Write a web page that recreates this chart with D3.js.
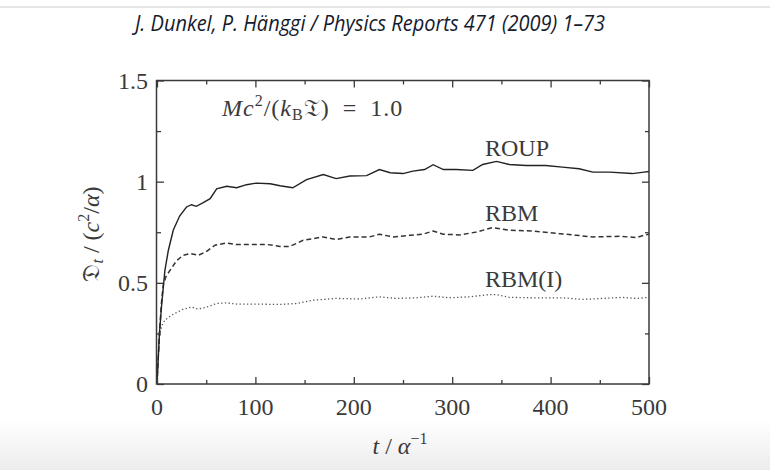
<!DOCTYPE html>
<html><head><meta charset="utf-8">
<script src="https://cdn.jsdelivr.net/npm/d3@7"></script>
<style>
html,body{margin:0;padding:0;background:#fff;}
svg{display:block;}
</style></head>
<body>
<svg id="chart" width="770" height="470"></svg>
<script>
// ---- data ----
const roupT = [0,1,2.5,4.7,8,11.5,16.5,23,30,35,40,47,54,60.6,70.8,81,91,101,115,125,138,152,169,182,196,213,226,237,250,260,272,280.6,291,304,321,331,345,358,375,395,412,429,443,460,483,495,500];
const roupV = [0,0.1,0.25,0.39,0.56,0.66,0.76,0.83,0.875,0.886,0.878,0.896,0.916,0.965,0.977,0.97,0.985,0.993,0.99,0.98,0.97,1.01,1.035,1.015,1.028,1.03,1.06,1.044,1.04,1.052,1.06,1.084,1.06,1.06,1.056,1.085,1.10,1.085,1.08,1.08,1.072,1.064,1.047,1.047,1.04,1.047,1.05];
const rbmT = [0,1,2.5,4.5,6.4,9,13,20,26.7,33.5,42,50.5,59,70.8,81,94,111,125,135,148.5,169,182,196,216,226,240,257,270,280.6,291,308,324.6,341,358,382,409,426,443,470,487,495,500];
const rbmV = [0,0.1,0.25,0.4,0.49,0.53,0.56,0.61,0.636,0.645,0.636,0.656,0.686,0.697,0.689,0.689,0.69,0.68,0.68,0.71,0.727,0.714,0.727,0.727,0.74,0.727,0.735,0.74,0.756,0.74,0.737,0.751,0.773,0.76,0.756,0.743,0.735,0.727,0.73,0.724,0.735,0.74];
const rbmIT = [0,1,2,3,5,8,16.5,26.7,35,42,50.5,60.6,70.8,81,101,125,142,159,182,206,226,243,264,280.6,297,318,338,345,358,385,412,433,453,473,487,500];
const rbmIV = [0,0.12,0.2,0.25,0.29,0.316,0.345,0.37,0.38,0.37,0.38,0.398,0.401,0.395,0.395,0.393,0.398,0.414,0.423,0.42,0.431,0.423,0.426,0.434,0.426,0.431,0.442,0.442,0.428,0.426,0.426,0.418,0.423,0.428,0.423,0.428];
const xMajor = [0,100,200,300,400,500];
const xMinor = [50,150,250,350,450];
const yMajor = [0,0.5,1,1.5];
const yMinor = [0.25,0.75,1.25];
const yTickLabels = ["0","0.5","1","1.5"];
const seriesLabels = ["ROUP","RBM","RBM(I)"];

const svg = d3.select("#chart");
const serif = "'Liberation Serif','DejaVu Serif',serif";
const ink = "#3a3a3a";
const FS = 24, SS = 16;

// page decoration
const defs = svg.append("defs");
const grad = defs.append("linearGradient").attr("id","bot").attr("x1",0).attr("y1",0).attr("x2",0).attr("y2",1);
grad.append("stop").attr("offset","0%").attr("stop-color","#ffffff");
grad.append("stop").attr("offset","100%").attr("stop-color","#ececec");
svg.append("rect").attr("x",0).attr("y",420).attr("width",770).attr("height",50).attr("fill","url(#bot)");
svg.append("line").attr("x1",0).attr("x2",770).attr("y1",7).attr("y2",7).attr("stroke","#e6e6e6").attr("stroke-width",2);

svg.append("text").attr("x",135).attr("y",31)
  .attr("font-family","'Open Sans','Noto Sans',sans-serif").attr("font-style","italic")
  .attr("font-size",21).attr("fill","#151b2c")
  .attr("textLength",470).attr("lengthAdjust","spacingAndGlyphs")
  .text("J. Dunkel, P. Hänggi / Physics Reports 471 (2009) 1–73");

// scales
const x = d3.scaleLinear().domain([0,500]).range([157,649]);
const y = d3.scaleLinear().domain([0,1.5]).range([384,80.5]);

// lines
const line = d3.line().x(d=>x(d[0])).y(d=>y(d[1]));
const zip = (a,b)=>a.map((t,i)=>[t,b[i]]);
const g = svg.append("g");
g.append("path").datum(zip(rbmIT,rbmIV)).attr("d",line).attr("fill","none")
  .attr("stroke","#555").attr("stroke-width",1.3).attr("stroke-dasharray","1.3,2.4");
g.append("path").datum(zip(rbmT,rbmV)).attr("d",line).attr("fill","none")
  .attr("stroke","#333").attr("stroke-width",1.5).attr("stroke-dasharray","5,3");
g.append("path").datum(zip(roupT,roupV)).attr("d",line).attr("fill","none")
  .attr("stroke","#222").attr("stroke-width",1.4);

// frame
const [x0,x1] = x.range(); const [yb,yt] = y.range();
svg.append("rect").attr("x",x0-0.5).attr("y",yt).attr("width",x1-x0+0.5).attr("height",yb-yt)
  .attr("fill","none").attr("stroke",ink).attr("stroke-width",1.5);

// ticks (inward, all four sides)
const axB = d3.axisBottom(x).tickValues(xMajor).tickSize(-7).tickFormat("");
const axT = d3.axisTop(x).tickValues(xMajor).tickSize(-7).tickFormat("");
const axBm = d3.axisBottom(x).tickValues(xMinor).tickSize(-4).tickFormat("");
const axTm = d3.axisTop(x).tickValues(xMinor).tickSize(-4).tickFormat("");
const axL = d3.axisLeft(y).tickValues(yMajor).tickSize(-7).tickFormat("");
const axR = d3.axisRight(y).tickValues(yMajor).tickSize(-7).tickFormat("");
const axLm = d3.axisLeft(y).tickValues(yMinor).tickSize(-4).tickFormat("");
const axRm = d3.axisRight(y).tickValues(yMinor).tickSize(-4).tickFormat("");
function put(ax, tr){
  const a = svg.append("g").attr("transform",tr).call(ax);
  a.select(".domain").remove();
  a.selectAll("line").attr("stroke",ink).attr("stroke-width",1.3);
}
put(axB,`translate(0,${yb})`); put(axBm,`translate(0,${yb})`);
put(axT,`translate(0,${yt})`); put(axTm,`translate(0,${yt})`);
put(axL,`translate(${x0},0)`); put(axLm,`translate(${x0},0)`);
put(axR,`translate(${x1},0)`); put(axRm,`translate(${x1},0)`);

// tick labels
svg.append("g").selectAll("text").data(xMajor).join("text")
  .attr("x",d=>x(d)).attr("y",415).attr("text-anchor","middle")
  .attr("font-family",serif).attr("font-size",FS).attr("fill",ink).text(d=>d);
svg.append("g").selectAll("text").data(yMajor).join("text")
  .attr("x",148).attr("y",d=>y(d)+8).attr("text-anchor","end")
  .attr("font-family",serif).attr("font-size",FS).attr("fill",ink).text((d,i)=>yTickLabels[i]);

// axis titles
const xl = svg.append("text").attr("x",400).attr("y",454).attr("text-anchor","middle")
  .attr("font-family",serif).attr("font-size",FS).attr("fill",ink);
xl.append("tspan").attr("font-style","italic").text("t");
xl.append("tspan").text(" / ");
xl.append("tspan").attr("font-style","italic").text("α");
xl.append("tspan").attr("font-size",SS).attr("dy",-10).text("−1");

const yl = svg.append("text").attr("transform","translate(99,234) rotate(-90)").attr("text-anchor","middle")
  .attr("font-family",serif).attr("font-size",FS).attr("fill",ink);
yl.append("tspan").text("𝔇");
yl.append("tspan").attr("font-style","italic").attr("font-size",SS).attr("dy",4).text("t");
yl.append("tspan").attr("dy",-4).text(" / (");
yl.append("tspan").attr("font-style","italic").text("c");
yl.append("tspan").attr("font-size",SS).attr("dy",-10).text("2");
yl.append("tspan").attr("dy",10).text("/");
yl.append("tspan").attr("font-style","italic").text("α");
yl.append("tspan").text(")");

// annotation
const an = svg.append("text").attr("x",222).attr("y",116)
  .attr("font-family",serif).attr("font-size",FS).attr("fill",ink).attr("letter-spacing",1);
an.append("tspan").attr("font-style","italic").text("Mc");
an.append("tspan").attr("font-size",SS).attr("dy",-10).text("2");
an.append("tspan").attr("dy",10).text("/(");
an.append("tspan").attr("font-style","italic").text("k");
an.append("tspan").attr("font-size",SS).attr("dy",4).text("B");
an.append("tspan").attr("dy",-4).text("𝔗)\u2002=\u20021.0");

// series labels
const labPos = [[485,156],[485,221],[485,287]];
svg.append("g").selectAll("text").data(seriesLabels).join("text")
  .attr("x",(d,i)=>labPos[i][0]).attr("y",(d,i)=>labPos[i][1])
  .attr("font-family",serif).attr("font-size",FS).attr("fill",ink).text(d=>d);
</script>
</body></html>
